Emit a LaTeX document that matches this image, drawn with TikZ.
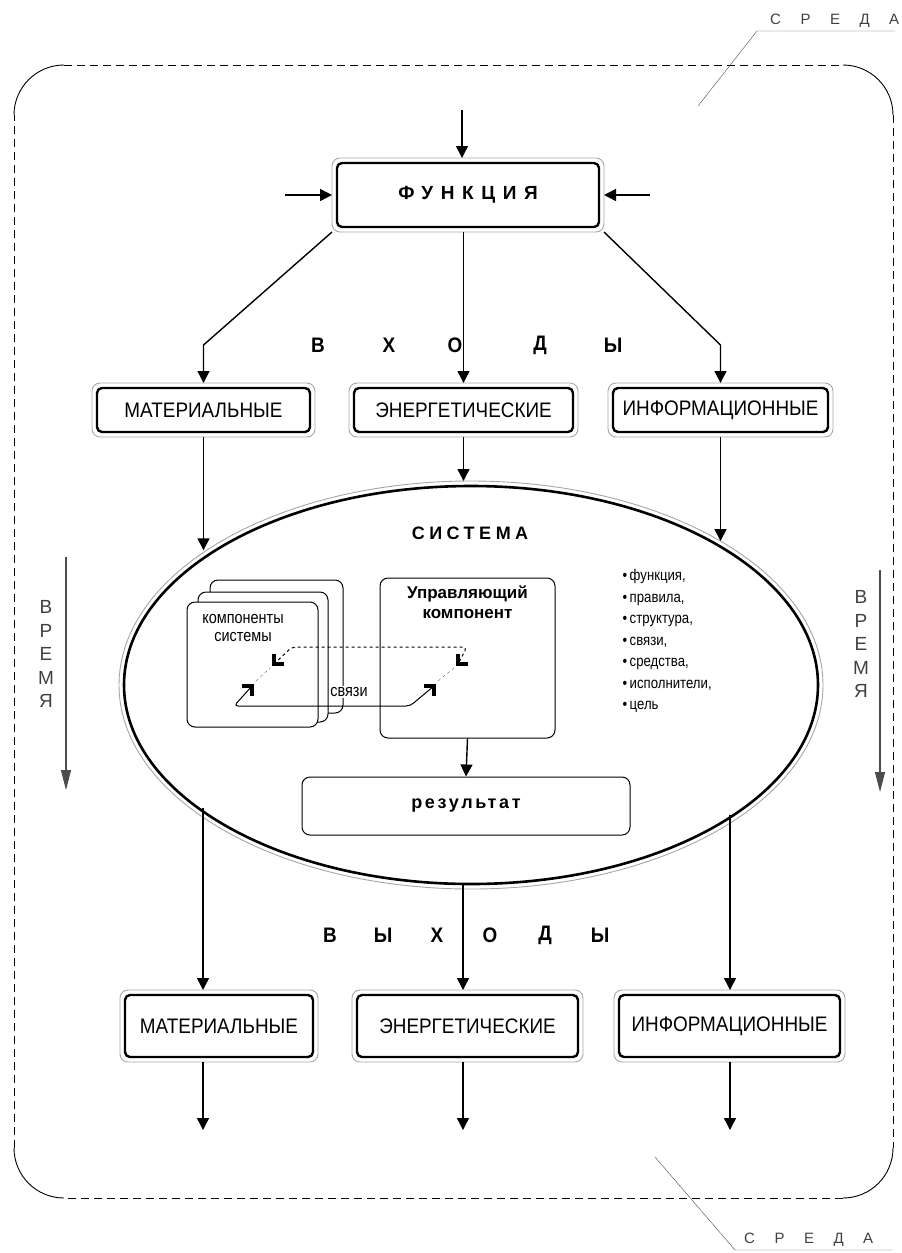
\documentclass[tikz,border=0pt]{standalone}
\usepackage{fontspec}
\setmainfont{Liberation Sans}
\newfontfamily\narrowfont[FakeStretch=0.9]{Liberation Sans}
\newfontfamily\slimfont[FakeStretch=0.85]{Liberation Sans}
\usetikzlibrary{arrows.meta,shapes.geometric,positioning}
\begin{document}
\begin{tikzpicture}[x=1pt,y=-1pt,>={Triangle[length=12pt,width=12pt]},line join=round,
	corner/.style={line width=3.4pt,line cap=butt,line join=miter},
	conn/.style={line width=1.4pt},
	dbox/.style={draw,line width=2.4pt,rounded corners=5pt,fill=white,inner sep=0pt,outer sep=5pt,
		font=\narrowfont\fontsize{21}{21}\selectfont,
		append after command={\pgfextra{\draw[gray!70,line width=.9pt,rounded corners=8pt]
			(\tikzlastnode.south west) rectangle (\tikzlastnode.north east);}}},
	wbox/.style={draw,line width=1pt,rounded corners=8pt,fill=white},
	ltr/.style={font=\narrowfont\bfseries\fontsize{21}{21}\selectfont},
	spaced/.style={font=\bfseries\fontsize{18}{18}\selectfont\addfontfeatures{LetterSpace=#1}},
	time/.style={align=center,text=black!75,font=\fontsize{19}{23.5}\selectfont},
	tarr/.style={-{Triangle[length=20pt,width=10pt]},line width=1.1pt,black!70},
	envline/.style={line width=.9pt,dash pattern=on 8pt off 5pt}]
	\useasboundingbox (0,0) rectangle (902,1253);
	% среда
	\draw[envline] (64,65) -- (843,65) (893,115) -- (893,1148) (843,1198) -- (64,1198) (14,1148) -- (14,115);
	\draw[line width=.9pt] (14,115) arc[start angle=180,end angle=270,radius=50]
	(843,65) arc[start angle=270,end angle=360,radius=50]
	(893,1148) arc[start angle=0,end angle=90,radius=50]
	(64,1198) arc[start angle=90,end angle=180,radius=50];
	\coordinate (e1) at (757,31);
	\coordinate (e2) at (735,1250);
	\draw[black!70] (e1) -- ++(138,0) (e1) -- ++(-59,75);
	\draw[black!70] (e2) -- ++(157,0) (e2) -- ++(-80,-93);
	\node[anchor=south west,inner sep=0pt,text=black!75,font=\fontsize{15}{15}\selectfont\addfontfeatures{LetterSpace=130}] (sr1) at ([xshift=13pt,yshift=3pt]e1) {СРЕДА};
	\node[anchor=south west,inner sep=0pt,text=black!75,font=\fontsize{15}{15}\selectfont\addfontfeatures{LetterSpace=130}] (sr2) at ([xshift=9pt,yshift=3pt]e2) {СРЕДА};
	% функция и входы
	\node[dbox,minimum width=262pt,minimum height=64pt,font=\bfseries\fontsize{19}{19}\selectfont\addfontfeatures{LetterSpace=40}] (fun) at (468,195) {ФУНКЦИЯ};
	\coordinate (f1) at (462,110);
	\coordinate (f2) at (285,195);
	\coordinate (f3) at (650,195);
	\draw[conn,->] (f1) -- (f1 |- fun.north);
	\draw[conn,->] (f2) -- (fun.west);
	\draw[conn,->] (f3) -- (fun.east);
	\node[dbox,minimum width=213pt,minimum height=44pt] (in1) at (203.5,410) {МАТЕРИАЛЬНЫЕ};
	\node[dbox,minimum width=219pt,minimum height=44pt] (in2) at (463.5,410) {ЭНЕРГЕТИЧЕСКИЕ};
	\node[dbox,minimum width=215pt,minimum height=44pt] (in3) at (720.5,410) {ИНФОРМАЦИОННЫЕ};
	\draw[conn,->] (fun.south west) -- (in1.north |- 0,345) -- (in1.north);
	\draw[conn,->] (fun.south -| in2) -- (in2.north);
	\draw[conn,->] (fun.south east) -- (in3.north |- 0,345) -- (in3.north);
	\foreach \ch/\x in {В/318,Х/389,О/455,Д/540,Ы/613}
	\node[ltr] (vx-\x) at (\x,345) {\ch};
	% система
	\node[ellipse,draw,line width=2.6pt,fill=white,minimum width=694pt,minimum height=398pt,inner sep=0pt,outer sep=5pt] (sys) at (471,685) {};
	\draw[gray!70,line width=.9pt] (sys.center) ellipse [x radius=352,y radius=204];
	\draw[conn,->] (in1.south) -- (in1.south |- sys.153);
	\draw[conn,->] (in2.south) -- (in2.south |- sys.north);
	\draw[conn,->] (in3.south) -- (in3.south |- sys.30);
	\node[spaced=25] (systxt) at (470,533) {СИСТЕМА};
	\node[wbox,minimum width=133pt,minimum height=133pt] (comp3) at (276.5,646.5) {};
	\node[wbox,minimum width=130pt,minimum height=130pt] (comp2) at (263,657) {};
	\node[wbox,minimum width=131pt,minimum height=125pt] (comp1) at (252.5,664.5) {};
	\node[align=center,font=\slimfont\fontsize{17}{18}\selectfont] (comptxt) at (243,628) {компоненты\\системы};
	\node[wbox,minimum width=175pt,minimum height=160pt] (ctl) at (467.5,658) {};
	\node[align=center,font=\bfseries\fontsize{17}{20}\selectfont,below=5pt of ctl.north] (ctltxt) {Управляющий\\компонент};
	\node[fill=white,inner sep=1pt,font=\slimfont\fontsize{17}{17}\selectfont] (links) at (349,692) {связи};
	% связи
	\coordinate (c1) at (252,686);
	\coordinate (c2) at (434,686);
	\coordinate (c3) at (274,664);
	\coordinate (c4) at (458,664);
	\draw[line width=1pt,rounded corners=4pt] (c1) -- (234,706) -- (410,706) -- (c2);
	\draw[line width=1pt,dashed,rounded corners=4pt] (c3) -- (292,647) -- (467,647) -- (c4);
	\draw[dashed,black!60] (256,681) -- (270,668) (438,681) -- (454,668);
	\foreach \c in {c1,c2}
	\draw[corner] ([xshift=-10pt]\c) -- (\c) -- ([yshift=-10pt]\c);
	\foreach \c in {c3,c4}
	\draw[corner] ([yshift=10pt]\c) -- (\c) -- ([xshift=10pt]\c);
	\node[wbox,minimum width=328pt,minimum height=58pt,spaced=15] (res) at (466,806) {результат};
	\draw[conn,->] (ctl.south) -- (res.north);
	\node[anchor=north west,align=left,font=\slimfont\fontsize{15.5}{21.5}\selectfont] (props) at (619,566)
	{•\,функция,\\•\,правила,\\•\,структура,\\•\,связи,\\•\,средства,\\•\,исполнители,\\•\,цель};
	% время
	\coordinate (t1) at (66,557);
	\coordinate (t2) at (66,790);
	\coordinate (t3) at (880,570);
	\coordinate (t4) at (880,792);
	\draw[tarr] (t1) -- (t2);
	\draw[tarr] (t3) -- (t4);
	\node[time] (tm1) at (46,654) {В\\Р\\Е\\М\\Я};
	\node[time] (tm2) at (861,644) {В\\Р\\Е\\М\\Я};
	% выходы
	\node[dbox,minimum width=188pt,minimum height=62pt] (out1) at (219,1026) {МАТЕРИАЛЬНЫЕ};
	\node[dbox,minimum width=221pt,minimum height=62pt] (out2) at (467.5,1026) {ЭНЕРГЕТИЧЕСКИЕ};
	\node[dbox,minimum width=221pt,minimum height=62pt] (out3) at (729.5,1026) {ИНФОРМАЦИОННЫЕ};
	\coordinate (o1) at (203,1130);
	\coordinate (o2) at (463,1130);
	\coordinate (o3) at (730,1130);
	\draw[conn,->] ([yshift=5pt]o1 |- sys.205) -- (o1 |- out1.north);
	\draw[conn,->] ([yshift=5pt]o2 |- sys.south) -- (o2 |- out2.north);
	\draw[conn,->] ([yshift=5pt]o3 |- sys.333) -- (o3 |- out3.north);
	\draw[conn,->] (o1 |- out1.south) -- (o1);
	\draw[conn,->] (o2 |- out2.south) -- (o2);
	\draw[conn,->] (o3 |- out3.south) -- (o3);
	\foreach \ch/\x in {В/330,Ы/383,Х/437,О/490,Д/545,Ы/600}
	\node[ltr] (vy-\x) at (\x,935) {\ch};
\end{tikzpicture}
\end{document}
